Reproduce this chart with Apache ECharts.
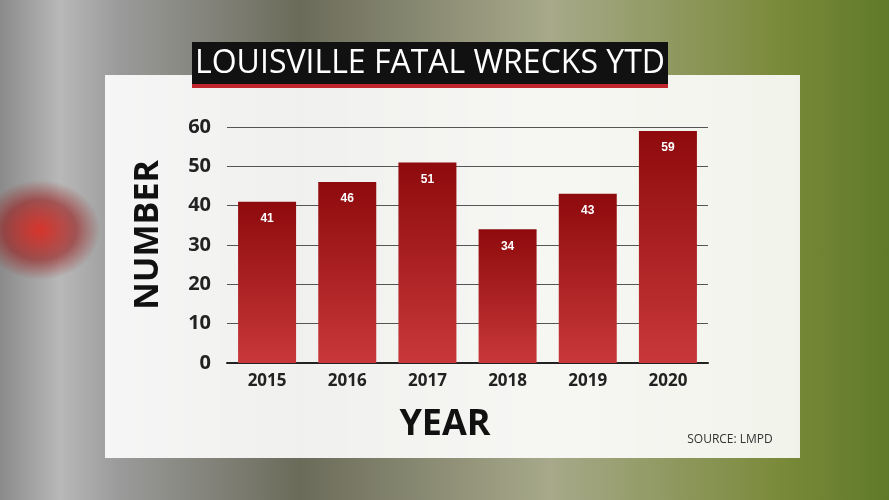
<!DOCTYPE html>
<html><head><meta charset="utf-8">
<script src="https://cdn.jsdelivr.net/npm/echarts@6/dist/echarts.min.js"></script>
<style>
html,body{margin:0;padding:0;width:889px;height:500px;overflow:hidden;}
body{background:
 radial-gradient(ellipse 60px 50px at 40px 230px, rgba(220,40,30,0.9), rgba(150,20,20,0.6) 60%, rgba(0,0,0,0) 100%),
 linear-gradient(90deg,#8a8a8a 0px,#b8b8b8 60px,#9a9a9a 120px,#6b6b5a 300px,#a7a98a 550px,#7a8a3a 780px,#5f7a2a 889px);}
#c{width:889px;height:500px;}
</style></head><body>
<div id="c"></div>
<script>
var categories=['2015','2016','2017','2018','2019','2020'];
var values=[41,46,51,34,43,59];
var yTicks=[0,10,20,30,40,50,60];
var chart=echarts.init(document.getElementById('c'),null,{renderer:'canvas'});
chart.setOption({
 backgroundColor:'transparent',
 graphic:[
  {type:'rect',shape:{x:105,y:75,width:695,height:383},style:{fill:'rgba(255,255,255,0.9)'},z:-10},
  {type:'rect',shape:{x:192,y:42,width:476,height:44},style:{fill:'#111'},z:-5},
  {type:'rect',shape:{x:192,y:84,width:476,height:4},style:{fill:'#c0262b'},z:-5},
  {type:'text',x:430,y:64,style:{text:'LOUISVILLE FATAL WRECKS YTD',fill:'#fff',font:'32px "Open Sans", sans-serif',align:'center',verticalAlign:'middle'}},
  {type:'text',x:148,y:235,rotation:Math.PI/2,style:{text:'NUMBER',fill:'#111',font:'bold 34px "Open Sans", sans-serif',align:'center',verticalAlign:'middle'}},
  {type:'text',x:445,y:425,style:{text:'YEAR',fill:'#111',font:'bold 36px "Open Sans", sans-serif',align:'center',verticalAlign:'middle'}},
  {type:'text',x:730,y:440,style:{text:'SOURCE: LMPD',fill:'#333',font:'12px "Open Sans", sans-serif',align:'center',verticalAlign:'middle'}}
 ],
 grid:{left:227,right:181,top:127,bottom:137,containLabel:false},
 xAxis:{type:'category',data:categories,axisTick:{show:false},
  axisLine:{lineStyle:{color:'#222',width:2}},
  axisLabel:{color:'#222',fontWeight:'bold',fontSize:17,margin:10,fontFamily:'"Open Sans", sans-serif'}},
 yAxis:{type:'value',min:0,max:60,interval:10,
  axisLabel:{color:'#222',fontWeight:'bold',fontSize:20,margin:16,fontFamily:'"Open Sans", sans-serif',
   formatter:function(v){return yTicks.indexOf(v)>=0?String(v):'';}},
  splitLine:{lineStyle:{color:'#555',width:1}}},
 series:[{type:'bar',data:values,barWidth:58,
  itemStyle:{color:new echarts.graphic.LinearGradient(0,0,0,1,[{offset:0,color:'#8e0a0c'},{offset:1,color:'#c8383a'}])},
  label:{show:true,position:'insideTop',offset:[0,6],color:'#fff',fontWeight:'bold',fontSize:12}}]
});
</script></body></html>
